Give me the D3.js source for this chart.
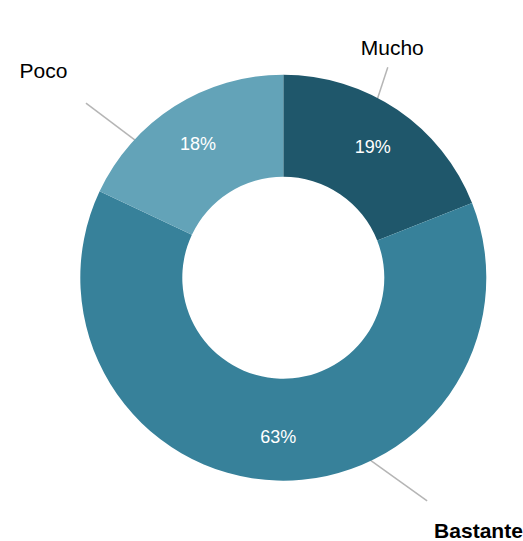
<!DOCTYPE html>
<html>
<head>
<meta charset="utf-8">
<script src="https://cdn.jsdelivr.net/npm/d3@7"></script>
<style>
  html, body { margin: 0; padding: 0; background: #ffffff; }
  svg { display: block; }
  text { font-family: "Liberation Sans", Arial, sans-serif; }
</style>
</head>
<body>
<svg id="chart" width="523" height="541"></svg>
<script>
// ---- data ----
const categories = ["Mucho", "Bastante", "Poco"];
const values = [19, 63, 18];
const percentLabels = ["19%", "63%", "18%"];
const colors = ["#1f576b", "#37819a", "#63a3b8"];
const boldLabel = ["Mucho", "Bastante", "Poco"].map(c => c === "Bastante");

// ---- layout ----
const W = 523, H = 541;
const cx = 283.3, cy = 277.7;
const R = 203, r = 101;
const pctR = 159;
// leader-line annotation layout (polar, degrees clockwise from top)
const leaders = [
  { attachDeg: 27.8, endDeg: 26.4, endR: 235, tdx: 4.5, tdy: -12, anchor: "middle" },
  { attachDeg: 154.7, endDeg: 147.2, endR: 265.5, tdx: 7, tdy: 37, anchor: "start" },
  { attachDeg: 312.9, endDeg: 311.5, endR: 263.5, tdx: -42.5, tdy: -25, anchor: "middle" }
];

const svg = d3.select("#chart");
const g = svg.append("g").attr("transform", `translate(${cx},${cy})`);

const pie = d3.pie().sort(null).startAngle(0).endAngle(2 * Math.PI)(values);
const arc = d3.arc().innerRadius(r).outerRadius(R);
const pctArc = d3.arc().innerRadius(pctR).outerRadius(pctR);

const polar = (deg, rad) => {
  const a = deg * Math.PI / 180;
  return [rad * Math.sin(a), -rad * Math.cos(a)];
};

// leader lines
leaders.forEach((L, i) => {
  const p0 = polar(L.attachDeg, R - 2);
  const p1 = polar(L.endDeg, L.endR);
  g.append("line")
    .attr("x1", p0[0]).attr("y1", p0[1])
    .attr("x2", p1[0]).attr("y2", p1[1])
    .attr("stroke", "#b5b5b5").attr("stroke-width", 1.5);
  g.append("text")
    .attr("x", p1[0] + L.tdx).attr("y", p1[1] + L.tdy)
    .attr("text-anchor", L.anchor)
    .attr("font-size", 21)
    .attr("font-weight", boldLabel[i] ? "bold" : "normal")
    .attr("fill", "#000")
    .text(categories[i]);
});

// slices
g.selectAll("path.slice").data(pie).join("path")
  .attr("class", "slice")
  .attr("d", arc)
  .attr("fill", (d, i) => colors[i]);

// percent labels
g.selectAll("text.pct").data(pie).join("text")
  .attr("class", "pct")
  .attr("transform", d => `translate(${pctArc.centroid(d)})`)
  .attr("text-anchor", "middle")
  .attr("dy", "0.36em")
  .attr("font-size", 18)
  .attr("fill", "#ffffff")
  .text((d, i) => percentLabels[i]);
</script>
</body>
</html>
